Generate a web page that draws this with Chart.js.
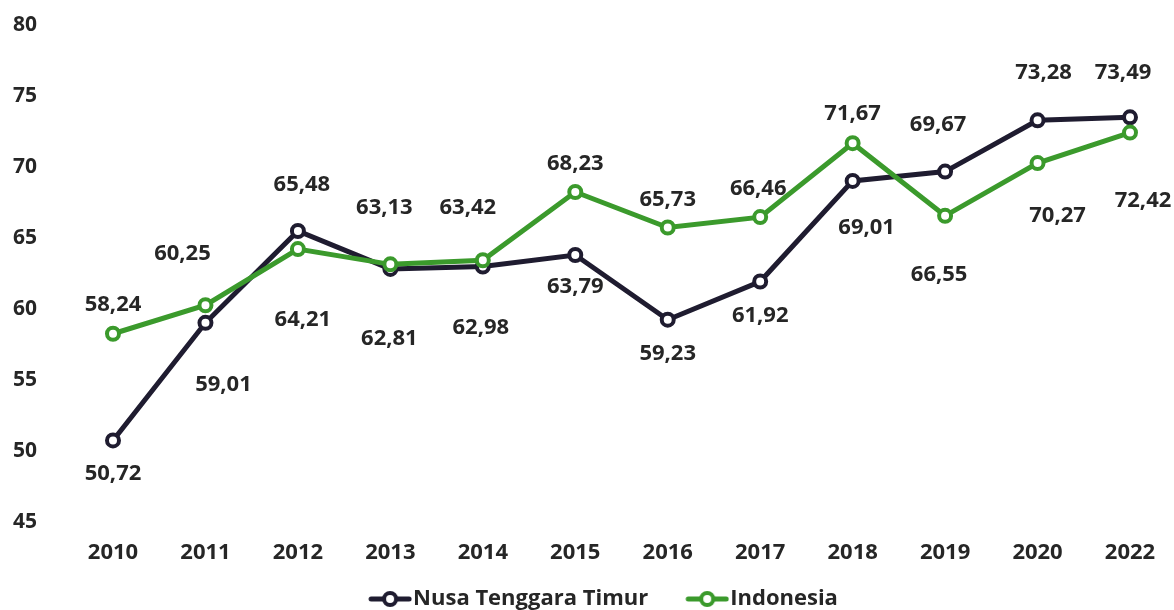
<!DOCTYPE html>
<html>
<head>
<meta charset="utf-8">
<script src="https://cdn.jsdelivr.net/npm/chart.js@4/dist/chart.umd.min.js"></script>
<style>
    html, body { margin: 0; padding: 0; background: #ffffff; }
    #wrap { width: 1174px; height: 610px; }
</style>
</head>
<body>
<div id="wrap"><canvas id="chartPicture"></canvas></div>
<script>
const years = ["2010", "2011", "2012", "2013", "2014", "2015", "2016", "2017", "2018", "2019", "2020", "2022"];
const nttValues = [50.72, 59.01, 65.48, 62.81, 62.98, 63.79, 59.23, 61.92, 69.01, 69.67, 73.28, 73.49];
const indonesiaValues = [58.24, 60.25, 64.21, 63.13, 63.42, 68.23, 65.73, 66.46, 71.67, 66.55, 70.27, 72.42];
const yMin = 45;
const yMax = 80;
const yStep = 5;

// where each value label sits, in pixels from its point
const nttLabelDx = [0, 18, 4, -1, -2, 0, 0, 0, 14, -7, 6, -7];
const nttLabelDy = [33, 62, -46, 70, 61, 32, 34, 34, 47, -47, -48, -45];
const indoLabelDx = [0, -23, 5, -6, -15, 0, 0, -2, 0, -6, 20, 13];
const indoLabelDy = [-29, -51, 71, -57, -53, -28, -28, -28, -29, 59, 53, 68];

const nttColor = "#1f1c30";
const indoColor = "#3b9a2c";
const textColor = "#262626";
const fontFamily = "'Open Sans', sans-serif";

// line + ring marker for the legend, with a blank margin on the left for spacing
function legendMarker(color)
{
    const c = document.createElement("canvas");
    c.width = 87;
    c.height = 18;
    const g = c.getContext("2d");
    g.strokeStyle = color;
    g.lineWidth = 5;
    g.lineCap = "round";
    g.beginPath();
    g.moveTo(46, 9);
    g.lineTo(84, 9);
    g.stroke();
    g.fillStyle = "#ffffff";
    g.lineWidth = 4;
    g.beginPath();
    g.arc(65, 9, 6, 0, Math.PI * 2);
    g.fill();
    g.stroke();
    return c;
}

const valueLabels =
{
    id: "valueLabels",
    afterLayout(chart)
    {
        chart.legend.left += 15;
        chart.legend.right += 15;
    },
    afterDatasetsDraw(chart)
    {
        const ctx = chart.ctx;
        const offsets = [[nttLabelDx, nttLabelDy], [indoLabelDx, indoLabelDy]];
        ctx.save();
        ctx.font = "bold 22px " + fontFamily;
        ctx.fillStyle = textColor;
        ctx.textAlign = "center";
        ctx.textBaseline = "middle";
        chart.data.datasets.forEach((ds, di) =>
        {
            const meta = chart.getDatasetMeta(di);
            meta.data.forEach((pt, i) =>
            {
                const text = ds.data[i].toFixed(2).replace(".", ",");
                ctx.fillText(text, pt.x + offsets[di][0][i], pt.y + offsets[di][1][i]);
            });
        });
        ctx.restore();
    }
};

const context = document.getElementById("chartPicture");

const configObject =
{
    type: "line",
    data:
    {
        labels: years,
        datasets:
        [
            {
                label: "Nusa Tenggara Timur",
                data: nttValues,
                borderColor: nttColor,
                borderWidth: 5,
                pointRadius: 6,
                pointBorderWidth: 4,
                pointBackgroundColor: "#ffffff",
                pointBorderColor: nttColor,
                tension: 0,
                order: 1,
            },
            {
                label: "Indonesia",
                data: indonesiaValues,
                borderColor: indoColor,
                borderWidth: 5,
                pointRadius: 6,
                pointBorderWidth: 4,
                pointBackgroundColor: "#ffffff",
                pointBorderColor: indoColor,
                tension: 0,
                order: 0,
            }
        ],
    },
    options:
    {
        responsive: true,
        maintainAspectRatio: false,
        animation: false,
        layout:
        {
            padding: { left: 13, right: 44, top: 25, bottom: -10 },
        },
        plugins:
        {
            tooltip: { enabled: false },
            legend:
            {
                position: "bottom",
                labels:
                {
                    usePointStyle: true,
                    pointStyleWidth: 67,
                    padding: 4,
                    color: textColor,
                    font: { family: fontFamily, size: 22, weight: "bold" },
                    generateLabels(chart)
                    {
                        return chart.data.datasets.map((ds, i) => ({
                            text: ds.label,
                            pointStyle: legendMarker(ds.borderColor),
                            fillStyle: ds.borderColor,
                            strokeStyle: ds.borderColor,
                            lineWidth: 0,
                            fontColor: textColor,
                            hidden: false,
                            datasetIndex: i,
                        }));
                    },
                },
            },
        },
        scales:
        {
            x:
            {
                grid: { display: false, drawTicks: false },
                border: { display: false },
                ticks:
                {
                    padding: 18,
                    color: textColor,
                    font: { family: fontFamily, size: 22, weight: "bold" },
                    maxRotation: 0,
                },
            },
            y:
            {
                min: yMin,
                max: yMax,
                grid: { display: false, drawTicks: false },
                border: { display: false },
                afterFit(scale) { scale.width = 100; },
                ticks:
                {
                    stepSize: yStep,
                    crossAlign: "far",
                    color: textColor,
                    font: { family: fontFamily, size: 21, weight: "bold" },
                },
            },
        },
    },
    plugins: [valueLabels],
};

const myChart = new Chart(context, configObject);
</script>
</body>
</html>
